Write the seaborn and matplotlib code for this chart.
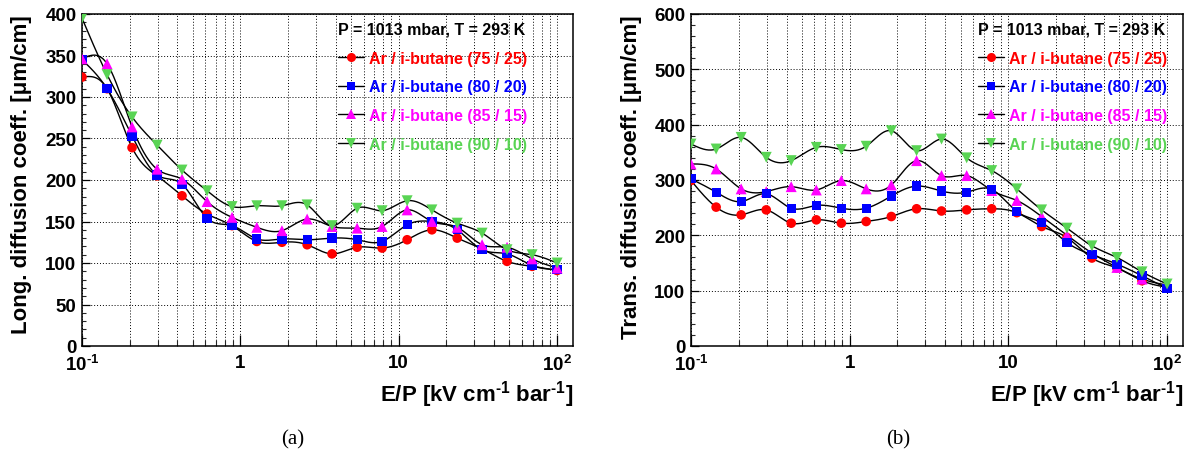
import numpy as np
import pandas as pd
import matplotlib
matplotlib.use("Agg")
import matplotlib.pyplot as plt
from matplotlib.lines import Line2D
from matplotlib.ticker import FixedLocator, FuncFormatter, MultipleLocator, LogLocator, NullFormatter
import seaborn as sns

# ---------------- data ----------------
ep = [0.1, 0.144, 0.207, 0.298, 0.428, 0.616, 0.886, 1.27, 1.83, 2.64,
      3.79, 5.46, 7.85, 11.3, 16.2, 23.4, 33.6, 48.3, 69.5, 100]

mixtures = ["Ar / i-butane (75 / 25)", "Ar / i-butane (80 / 20)",
            "Ar / i-butane (85 / 15)", "Ar / i-butane (90 / 10)"]

long_7525 = [324, 310, 239, 205, 181, 159, 145, 126, 125, 122, 111, 119, 118, 128, 140, 130, 117, 102, 96, 91]
long_8020 = [345, 310, 253, 206, 195, 154, 145, 129, 129, 128, 130, 128, 126, 146, 150, 140, 116, 111, 97, 92]
long_8515 = [346, 340, 264, 213, 201, 174, 155, 143, 139, 153, 144, 142, 144, 164, 150, 143, 122, 119, 105, 94]
long_9010 = [395, 327, 276, 242, 212, 187, 168, 169, 169, 170, 145, 166, 163, 175, 164, 148, 136, 116, 110, 100]

trans_7525 = [299, 251, 237, 246, 222, 228, 222, 225, 234, 248, 244, 246, 248, 241, 216, 196, 159, 141, 118, 106]
trans_8020 = [302, 278, 261, 275, 249, 254, 249, 249, 271, 289, 280, 278, 283, 243, 223, 187, 165, 148, 127, 104]
trans_8515 = [329, 320, 284, 279, 288, 282, 299, 284, 291, 335, 308, 308, 281, 263, 234, 200, 168, 142, 121, 110]
trans_9010 = [365, 356, 377, 341, 335, 359, 355, 361, 389, 353, 374, 340, 317, 284, 246, 213, 181, 160, 134, 112]

legend_title = "P = 1013 mbar, T = 293 K"
ylabels = ["Long. diffusion coeff. [\u03bcm/cm]", "Trans. diffusion coeff. [\u03bcm/cm]"]
xlabel = "E/P [kV cm$^{\u20101}$ bar$^{\u20101}$]"
captions = ["(a)", "(b)"]
xtick_vals = [0.1, 1, 10, 100]
xtick_text = ["$10^{\u20101}$", "1", "10", "$10^{2}$"]

colors = ["#ff0000", "#0000ff", "#ff00ff", "#59d454"]
markers = ["o", "s", "^", "v"]
msizes = [48, 44, 62, 62]
lmsizes = [6.5, 6.2, 7.5, 7.5]

# ---------------- style ----------------
sns.set_theme(style="white")
plt.rcParams["font.family"] = ["Liberation Sans", "DejaVu Sans"]
plt.rcParams["font.weight"] = "bold"
plt.rcParams["mathtext.fontset"] = "custom"
plt.rcParams["mathtext.rm"] = "Liberation Sans:bold"
plt.rcParams["mathtext.bf"] = "Liberation Sans:bold"
plt.rcParams["mathtext.it"] = "Liberation Sans:bold"
plt.rcParams["mathtext.default"] = "bf"


def natural_spline(t, y, npts=30):
    t = np.asarray(t, float)
    y = np.asarray(y, float)
    n = len(t)
    h = np.diff(t)
    A = np.zeros((n, n))
    r = np.zeros(n)
    A[0, 0] = 1
    A[-1, -1] = 1
    for i in range(1, n - 1):
        A[i, i - 1] = h[i - 1]
        A[i, i] = 2 * (h[i - 1] + h[i])
        A[i, i + 1] = h[i]
        r[i] = 6 * ((y[i + 1] - y[i]) / h[i] - (y[i] - y[i - 1]) / h[i - 1])
    M = np.linalg.solve(A, r)
    tt_all, yy_all = [], []
    for i in range(n - 1):
        tt = np.linspace(t[i], t[i + 1], npts, endpoint=(i == n - 2))
        a = t[i + 1] - tt
        b = tt - t[i]
        yy = (M[i] * a ** 3 / (6 * h[i]) + M[i + 1] * b ** 3 / (6 * h[i])
              + (y[i] / h[i] - M[i] * h[i] / 6) * a
              + (y[i + 1] / h[i] - M[i + 1] * h[i] / 6) * b)
        tt_all.append(tt)
        yy_all.append(yy)
    return np.concatenate(tt_all), np.concatenate(yy_all)


fig = plt.figure(figsize=(11.88, 4.64), dpi=100)
W, H = 1188, 464
panels = [
    dict(box=(82, 15, 573, 347), series=[long_7525, long_8020, long_8515, long_9010],
         ylim=(0, 400), major=50, minor=10, order=[0, 1, 2, 3], leg_x=338, cap_x=293, ylab_x=22),
    dict(box=(691, 15, 1183, 347), series=[trans_7525, trans_8020, trans_8515, trans_9010],
         ylim=(0, 600), major=100, minor=20, order=[0, 2, 1, 3], leg_x=978, cap_x=898, ylab_x=632),
]

for p, ylab, cap in zip(panels, ylabels, captions):
    x0, y0, x1, y1 = p["box"]
    ax = fig.add_axes([x0 / W, 1 - y1 / H, (x1 - x0) / W, (y1 - y0) / H])
    ax.set_xscale("log")
    ax.set_xlim(0.1, 126)
    ax.set_ylim(*p["ylim"])

    for k in p["order"]:
        vals = p["series"][k]
        tt, yy = natural_spline(np.log10(ep), vals)
        ax.plot(10 ** tt, yy, color="black", lw=1.0, zorder=3)
        df = pd.DataFrame({"ep": ep, "val": vals})
        sns.scatterplot(data=df, x="ep", y="val", ax=ax, color=colors[k], marker=markers[k],
                        s=msizes[k], edgecolor="none", linewidth=0, zorder=4)

    # axes styling
    for sp in ax.spines.values():
        sp.set_color("black")
        sp.set_linewidth(1.1)
    ax.xaxis.set_major_locator(FixedLocator(xtick_vals))
    ax.xaxis.set_major_formatter(FuncFormatter(lambda v, pos: xtick_text[xtick_vals.index(v)] if v in xtick_vals else ""))
    ax.xaxis.set_minor_locator(LogLocator(base=10, subs=np.arange(2, 10), numticks=20))
    ax.xaxis.set_minor_formatter(NullFormatter())
    ax.yaxis.set_major_locator(MultipleLocator(p["major"]))
    ax.yaxis.set_minor_locator(MultipleLocator(p["minor"]))
    ax.tick_params(axis="x", which="major", direction="in", length=8, width=0.9,
                   labelsize=13.5, pad=6, colors="black", bottom=True, top=False)
    ax.tick_params(axis="x", which="minor", direction="in", length=4, width=0.8, bottom=True, top=False)
    ax.tick_params(axis="y", which="major", direction="in", length=6, width=0.9,
                   labelsize=13.5, pad=4, colors="black", left=True, right=False)
    ax.tick_params(axis="y", which="minor", direction="in", length=3, width=0.8, left=True, right=False)
    ax.grid(True, which="both", axis="x", color="black", ls=(0, (1, 2)), lw=0.7)
    ax.grid(True, which="major", axis="y", color="black", ls=(0, (1, 2)), lw=0.7)
    ax.set_axisbelow(True)

    ax.set_xlabel(xlabel, fontsize=16, fontweight="bold", loc="right", color="black")
    ax.xaxis.set_label_coords(1.0, -(395 - y1) / (y1 - y0), transform=ax.transAxes)
    ax.xaxis.label.set_verticalalignment("center")
    ax.set_ylabel(ylab, fontsize=16, fontweight="bold", loc="top", color="black")
    ax.yaxis.set_label_coords((p["ylab_x"] - x0) / (x1 - x0), 1.0)
    ax.yaxis.label.set_verticalalignment("center")

    handles = [Line2D([0], [0], color="black", lw=1.0, marker=markers[k], markersize=lmsizes[k],
                      markerfacecolor=colors[k], markeredgecolor=colors[k], markeredgewidth=0)
               for k in range(4)]
    leg = ax.legend(handles, mixtures, title=legend_title, loc="upper left",
                    bbox_to_anchor=((p["leg_x"] - x0) / (x1 - x0), 1 - (23 - y0) / (y1 - y0)),
                    frameon=False, borderpad=0, borderaxespad=0, handlelength=1.6,
                    handletextpad=0.35, labelspacing=0.85, numpoints=1,
                    prop={"family": "Liberation Sans", "weight": "bold", "size": 11.5},
                    title_fontproperties={"family": "Liberation Sans", "weight": "bold", "size": 11.5},
                    alignment="left")
    leg.get_title().set_color("black")
    for txt, c in zip(leg.get_texts(), colors):
        txt.set_color(c)
    leg._legend_box.sep = 10

    fig.text(p["cap_x"] / W, 1 - 440 / H, cap, ha="center", va="center",
             fontsize=15, family="Liberation Serif", fontweight="normal", color="black")

fig.savefig("out.png", dpi=100)
